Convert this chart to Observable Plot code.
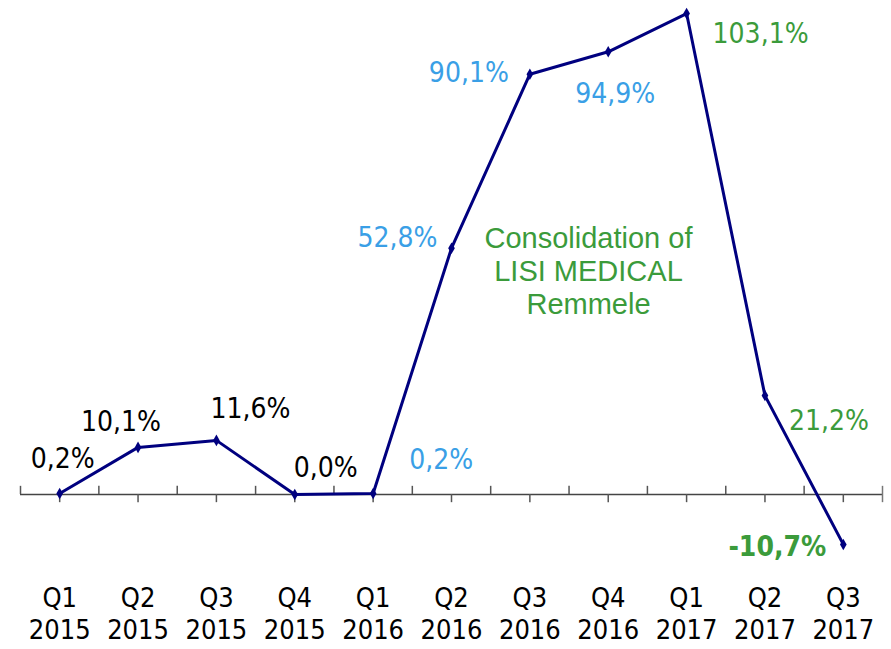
<!DOCTYPE html>
<html>
<head>
<meta charset="utf-8">
<script src="https://cdn.jsdelivr.net/npm/d3@7"></script>
<script src="https://cdn.jsdelivr.net/npm/@observablehq/plot@0.6"></script>
<style>
  html, body { margin: 0; padding: 0; background: #fff; }
</style>
</head>
<body>
<div id="chart"></div>
<script>
const quarters = ["Q1", "Q2", "Q3", "Q4", "Q1", "Q2", "Q3", "Q4", "Q1", "Q2", "Q3"];
const years = ["2015", "2015", "2015", "2015", "2016", "2016", "2016", "2016", "2017", "2017", "2017"];
const growth = [0.2, 10.1, 11.6, 0.0, 0.2, 52.8, 90.1, 94.9, 103.1, 21.2, -10.7];
const growthLabels = ["0,2%", "10,1%", "11,6%", "0,0%", "0,2%", "52,8%", "90,1%", "94,9%", "103,1%", "21,2%", "-10,7%"];
const annotationText = "Consolidation of\nLISI MEDICAL\nRemmele";

// styling / layout helpers (not data)
const yearColor = {"2015": "#000000", "2016": "#3a9fe6", "2017": "#3b9b3b"};
const labelOffsets = [[3, -35], [-17, -25], [34, -31], [31, -26], [68, -34], [-54, -10], [-61, -1], [7, 42], [74, 20], [64, 25], [-66, 3]];

const data = growth.map((v, i) => ({i, v, label: growthLabels[i], q: quarters[i], year: years[i]}));
const idx = d3.range(quarters.length);
const bounds = d3.range(quarters.length + 1).map(k => k - 0.5);

const pxPerUnit = 4.665, zeroY = 494;
const fontMain = "'DejaVu Sans Condensed', 'DejaVu Sans', sans-serif";

const labelMarks = data.map((d, i) => Plot.text([d], {
  x: "i", y: "v", text: "label",
  dx: labelOffsets[i][0], dy: labelOffsets[i][1],
  fill: yearColor[d.year],
  fontSize: 28,
  fontWeight: i === data.length - 1 ? "bold" : "normal",
  fontFamily: fontMain,
  textAnchor: "middle", lineAnchor: "middle"
}));

const chart = Plot.plot({
  width: 891,
  height: 649,
  marginTop: 0,
  marginLeft: 0,
  marginRight: 0,
  marginBottom: 66,
  style: {background: "#fff", fontFamily: fontMain},
  x: {type: "linear", domain: [-0.5, 10.5], range: [20, 882]},
  y: {domain: [-12, 105], range: [zeroY + pxPerUnit * 12, zeroY - pxPerUnit * 105], axis: null},
  marks: [
    Plot.ruleY([0], {x1: -0.5, x2: 10.5, stroke: "#444", strokeWidth: 1.5}),
    Plot.ruleX(bounds.slice(0, -1), {y1: 0, y2: 1.75, stroke: "#555", strokeWidth: 1.5}),
    Plot.ruleX(bounds.slice(-1), {y1: -1.75, y2: 1.75, stroke: "#777", strokeWidth: 1.5}),
    Plot.ruleX(idx, {y1: 0, y2: -1.75, stroke: "#555", strokeWidth: 1.5}),
    Plot.line(data, {x: "i", y: "v", stroke: "#00007f", strokeWidth: 3}),
    Plot.dot(data, {x: "i", y: "v", symbol: "diamond", r: 3.5, fill: "#00007f"}),
    ...labelMarks,
    Plot.text([data[5]], {
      x: "i", y: "v", text: () => annotationText,
      dx: 137, dy: 22,
      fill: "#3b9b3b", fontSize: 29, lineHeight: 1.14,
      fontFamily: "'Liberation Sans', Arial, sans-serif",
      textAnchor: "middle", lineAnchor: "middle"
    }),
    Plot.axisX(idx, {
      tickFormat: i => quarters[i] + "\n" + years[i],
      tickSize: 0, tickPadding: 0,
      fontSize: 27, lineHeight: 1.2,
      fill: "#000", label: null
    })
  ]
});
document.getElementById("chart").appendChild(chart);
</script>
</body>
</html>
